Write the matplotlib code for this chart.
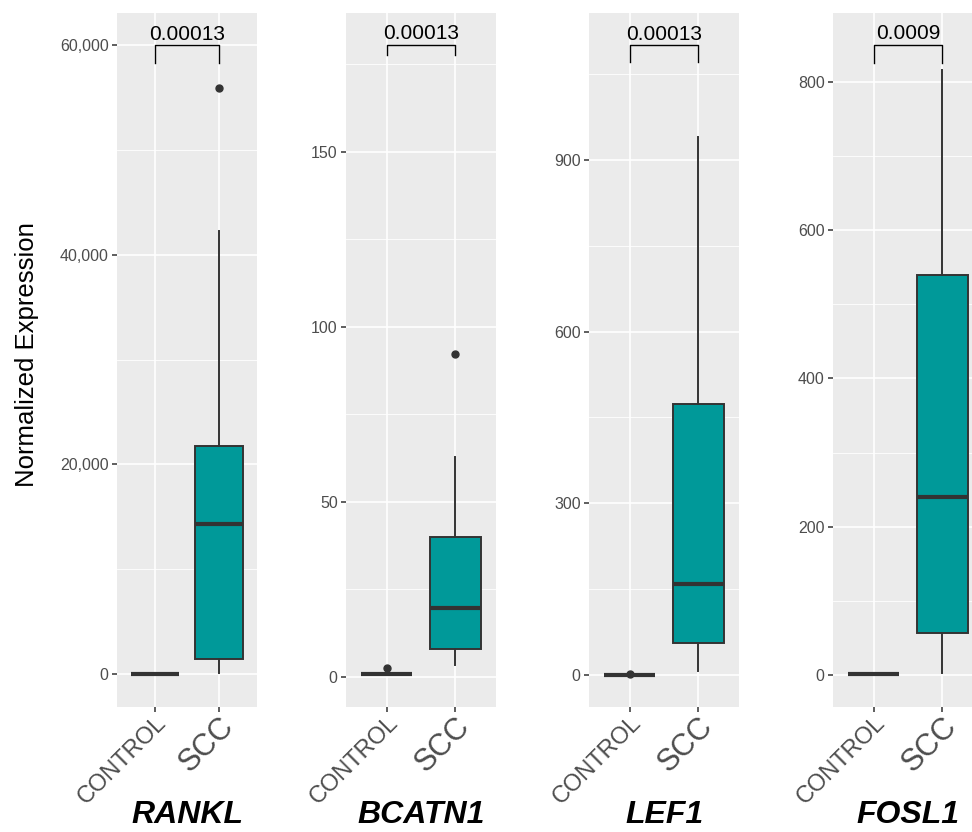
import matplotlib.pyplot as plt
import matplotlib.ticker as mticker

plt.rcParams['font.family'] = ['Liberation Sans', 'DejaVu Sans']

# data (boxplot stats per gene)
genes = ['RANKL', 'BCATN1', 'LEF1', 'FOSL1']
groups = ['CONTROL', 'SCC']
pvals = ['0.00013', '0.00013', '0.00013', '0.0009']

ctrl_whislo = [0, 0.9, 0, 1.5]
ctrl_q1 = [0, 0.9, 0, 1.5]
ctrl_med = [0, 0.9, 0, 1.5]
ctrl_q3 = [0, 0.9, 0, 1.5]
ctrl_whishi = [0, 0.9, 0, 1.5]
ctrl_fliers = [[], [2.6], [1.7], []]

scc_whislo = [100, 3.4, 7, 3]
scc_q1 = [1430, 8, 56, 57]
scc_med = [14300, 19.7, 159, 240]
scc_q3 = [21750, 40, 473.6, 540]
scc_whishi = [42250, 62.9, 940, 816]
scc_fliers = [[55900], [92.3], [], []]

bracket_top = [60000, 180.6, 1101, 850]
bracket_tip = [58300, 177.7, 1071, 826]

yticks = [[0, 20000, 40000, 60000], [0, 50, 100, 150], [0, 300, 600, 900],
          [0, 200, 400, 600, 800]]
yminor = [[10000, 30000, 50000], [25, 75, 125, 175], [150, 450, 750, 1050],
          [100, 300, 500, 700]]
ylims = [(-3148, 63053), (-8.6, 189.7), (-56, 1157), (-43.2, 893)]

# panel placement in pixels (left, width)
W, H = 972, 832
panels = [(117, 140), (346, 150), (589, 150), (833, 150)]
top_px, bot_px = 13, 707

fig = plt.figure(figsize=(W / 100, H / 100), dpi=100)

dark = '#333333'
for i, g in enumerate(genes):
    left, width = panels[i]
    ax = fig.add_axes([left / W, 1 - bot_px / H, width / W, (bot_px - top_px) / H])
    ax.set_facecolor('#EBEBEB')
    for s in ax.spines.values():
        s.set_visible(False)

    stats = [
        dict(whislo=ctrl_whislo[i], q1=ctrl_q1[i], med=ctrl_med[i], q3=ctrl_q3[i],
             whishi=ctrl_whishi[i], fliers=ctrl_fliers[i]),
        dict(whislo=scc_whislo[i], q1=scc_q1[i], med=scc_med[i], q3=scc_q3[i],
             whishi=scc_whishi[i], fliers=scc_fliers[i]),
    ]
    ax.bxp(stats, positions=[1, 2], widths=0.75, patch_artist=True, showcaps=False,
           boxprops=dict(facecolor='#009999', edgecolor=dark, linewidth=1.4),
           medianprops=dict(color=dark, linewidth=3.0, solid_capstyle='butt'),
           whiskerprops=dict(color=dark, linewidth=1.4),
           flierprops=dict(marker='o', markerfacecolor=dark, markeredgecolor=dark,
                           markersize=5),
           zorder=3)

    # significance bracket
    ax.plot([1, 1, 2, 2], [bracket_tip[i], bracket_top[i], bracket_top[i], bracket_tip[i]],
            color='black', linewidth=1.0, zorder=4)
    ax.annotate(pvals[i], xy=(1.5, bracket_top[i]), xytext=(0, 1),
                textcoords='offset points', ha='center', va='bottom',
                fontsize=15, color='black')

    ax.set_xlim(0.4, 2.6)
    ax.set_ylim(*ylims[i])
    ax.set_xticks([1, 2])
    ax.set_yticks(yticks[i])
    ax.set_yticks(yminor[i], minor=True)
    ax.yaxis.set_major_formatter(mticker.FuncFormatter(lambda v, p: f'{int(v):,}'))
    ax.tick_params(axis='both', which='major', length=3.5, width=1.1, color=dark,
                   labelcolor='#4D4D4D', pad=2.5)
    ax.tick_params(axis='x', which='major', pad=0)
    ax.tick_params(axis='y', which='major', labelsize=11.5)
    ax.tick_params(axis='y', which='minor', length=0)
    ax.set_xticklabels(groups)
    for lab, fs in zip(ax.get_xticklabels(), [17, 22]):
        lab.set_fontsize(fs)
        lab.set_rotation(45)
        lab.set_ha('right')
        lab.set_va('top')
        lab.set_rotation_mode('anchor')
        lab.set_color('#4D4D4D')
    ax.grid(True, which='major', color='white', linewidth=1.2)
    ax.grid(True, which='minor', axis='y', color='white', linewidth=0.6)
    ax.set_axisbelow(True)

    fig.text((left + width / 2) / W, 1 - 815 / H, g, ha='center', va='center',
             fontsize=23, fontweight='bold', fontstyle='italic', color='black')

fig.text(27 / W, 1 - 355 / H, 'Normalized Expression', rotation=90,
         ha='center', va='center', fontsize=18.5, color='black')

fig.savefig('out.png', dpi=100)
